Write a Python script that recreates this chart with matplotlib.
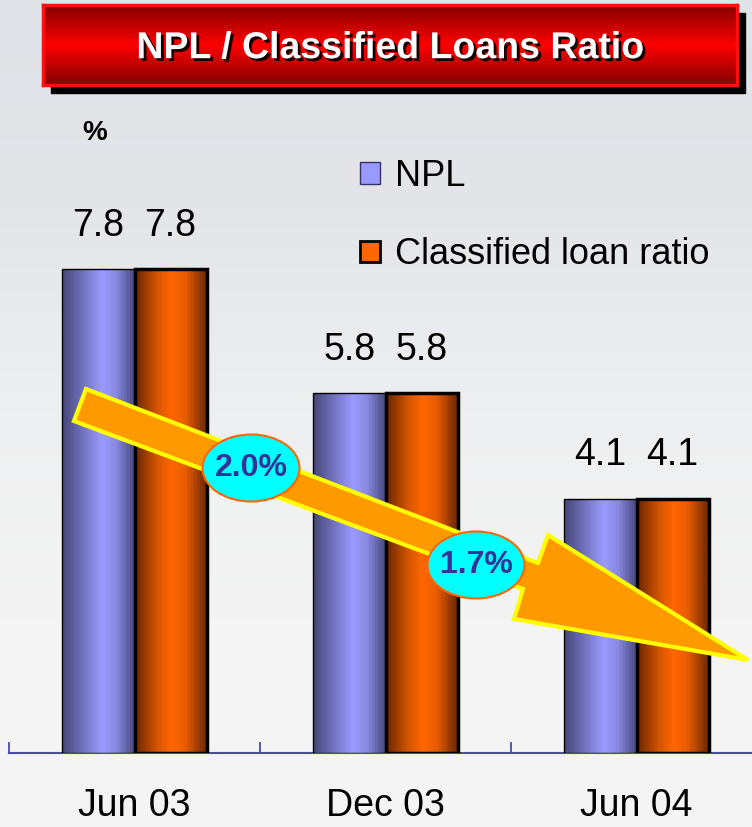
import numpy as np
import matplotlib
matplotlib.use('Agg')
import matplotlib.pyplot as plt
from matplotlib.patches import Rectangle, Polygon, Ellipse, Patch
from matplotlib.colors import LinearSegmentedColormap
import matplotlib.patheffects as pe

plt.rcParams['font.family'] = ['Liberation Sans', 'DejaVu Sans']

W, H = 752, 827

# data
periods = ['Jun 03', 'Dec 03', 'Jun 04']
npl = [7.8, 5.8, 4.1]
classified = [7.8, 5.8, 4.1]
series_names = ['NPL', 'Classified loan ratio']
change_labels = ['2.0%', '1.7%']

# decoration in pixel coords (x from left, y from top)
ARROW_PX = [(86, 389), (538, 563), (548, 535), (748, 660),
            (514, 619), (523, 589), (74, 421)]
BUBBLES_PX = [(251, 468), (476, 565)]


def fx(px):
    return px / W


def fy(py):
    return 1 - py / H


fig = plt.figure(figsize=(W / 100, H / 100), dpi=100)

# background gradient
bg = fig.add_axes([0, 0, 1, 1], zorder=-10)
bg_cmap = LinearSegmentedColormap.from_list(
    'bg', ['#dfe2e6', '#e3e5e9', '#eeeff0', '#f4f4f4', '#f5f5f5'])
bg.imshow(np.linspace(0, 1, 256).reshape(-1, 1), aspect='auto', cmap=bg_cmap,
          extent=[0, 1, 0, 1])
bg.axis('off')

# main axes
ax = fig.add_axes([fx(9), fy(753), (W - 9) / W, 633 / H])
ax.patch.set_alpha(0)

x = np.arange(len(periods))
width = 0.287
b1 = ax.bar(x - width / 2, npl, width, edgecolor='black', linewidth=1, zorder=3)
b2 = ax.bar(x + width / 2, classified, width, edgecolor='black', linewidth=2.5, zorder=3)

npl_cmap = LinearSegmentedColormap.from_list(
    'npl', [(0, '#48487a'), (0.55, '#9b9bff'), (0.75, '#8888e0'), (1, '#4a4a80')])
org_cmap = LinearSegmentedColormap.from_list(
    'org', [(0, '#6e2800'), (0.3, '#d45500'), (0.5, '#ff6600'), (0.7, '#e85c00'), (1, '#6a2600')])


def shade(bars, cmap):
    for p in bars:
        x0, y0 = p.get_x(), p.get_y()
        w, h = p.get_width(), p.get_height()
        im = ax.imshow(np.linspace(0, 1, 48).reshape(1, -1), cmap=cmap,
                       extent=[x0, x0 + w, y0, y0 + h], aspect='auto',
                       interpolation='nearest', zorder=2.9)
        im.set_clip_path(p)
        p.set_facecolor('none')


shade(b1, npl_cmap)
shade(b2, org_cmap)

for bars, vals in ((b1, npl), (b2, classified)):
    for p, v in zip(bars, vals):
        ax.annotate(f'{v:.1f}', (p.get_x() + p.get_width() / 2, v),
                    xytext=(0, 24), textcoords='offset points',
                    ha='center', va='baseline', fontsize=27)

ax.set_xlim(-0.5, 2.46)
ax.set_ylim(0, 10.2)
for s in ('left', 'top', 'right'):
    ax.spines[s].set_visible(False)
ax.spines['bottom'].set_color('#4a4aa8')
ax.spines['bottom'].set_linewidth(1.5)
ax.set_yticks([])
ax.set_xticks(x, periods)
ax.tick_params(axis='x', which='major', length=0, pad=25, labelsize=27)
ax.set_xticks([-0.5, 0.5, 1.5], minor=True)
ax.tick_params(axis='x', which='minor', direction='in', length=8, width=1.3,
               color='#4a4aa8')

handles = [Patch(facecolor='#9999ff', edgecolor='#333366', linewidth=1),
           Patch(facecolor='#ff6600', edgecolor='black', linewidth=2)]
ax.legend(handles, series_names, loc='upper left',
          bbox_to_anchor=(fx(360), fy(159)), bbox_transform=fig.transFigure,
          frameon=False, fontsize=26, handlelength=0.55, handleheight=0.55,
          handletextpad=0.42, labelspacing=1.2, borderpad=0, borderaxespad=0)

fig.text(fx(95), fy(133), '%', ha='center', va='center', fontsize=20,
         fontweight='bold')

# title box
tx0, ty0, tx1, ty1 = 43, 5, 737, 85
fig.add_artist(Rectangle((fx(tx0 + 8), fy(ty1 + 8)), (tx1 - tx0) / W, (ty1 - ty0) / H,
                         transform=fig.transFigure, color='black', zorder=1))
tax = fig.add_axes([fx(tx0), fy(ty1), (tx1 - tx0) / W, (ty1 - ty0) / H], zorder=2)
title_cmap = LinearSegmentedColormap.from_list('t', ['#840000', '#ff0000', '#840000'])
tax.imshow(np.linspace(0, 1, 128).reshape(-1, 1), aspect='auto', cmap=title_cmap,
           extent=[0, 1, 0, 1])
tax.set_xticks([])
tax.set_yticks([])
for s in tax.spines.values():
    s.set_color('#ff1010')
    s.set_linewidth(2.5)
tax.text(0.5, 0.46, 'NPL / Classified Loans Ratio', transform=tax.transAxes,
         ha='center', va='center', color='white', fontsize=27, fontweight='bold',
         path_effects=[pe.withSimplePatchShadow(offset=(2, -2), shadow_rgbFace='black', alpha=0.9)])

# trend arrow
fig.add_artist(Polygon([(fx(a), fy(b)) for a, b in ARROW_PX], closed=True,
                       transform=fig.transFigure, facecolor='#ff9900',
                       edgecolor='#ffff00', linewidth=3, joinstyle='miter', zorder=5))
for (cx, cy), lab in zip(BUBBLES_PX, change_labels):
    fig.add_artist(Ellipse((fx(cx), fy(cy)), 97 / W, 67 / H, transform=fig.transFigure,
                           facecolor='#00ffff', edgecolor='#ff6600', linewidth=1.5, zorder=6))
    fig.text(fx(cx), fy(cy), lab, ha='center', va='center', fontsize=23,
             fontweight='bold', color='#333399', zorder=7)

fig.savefig('out.png', dpi=100)
